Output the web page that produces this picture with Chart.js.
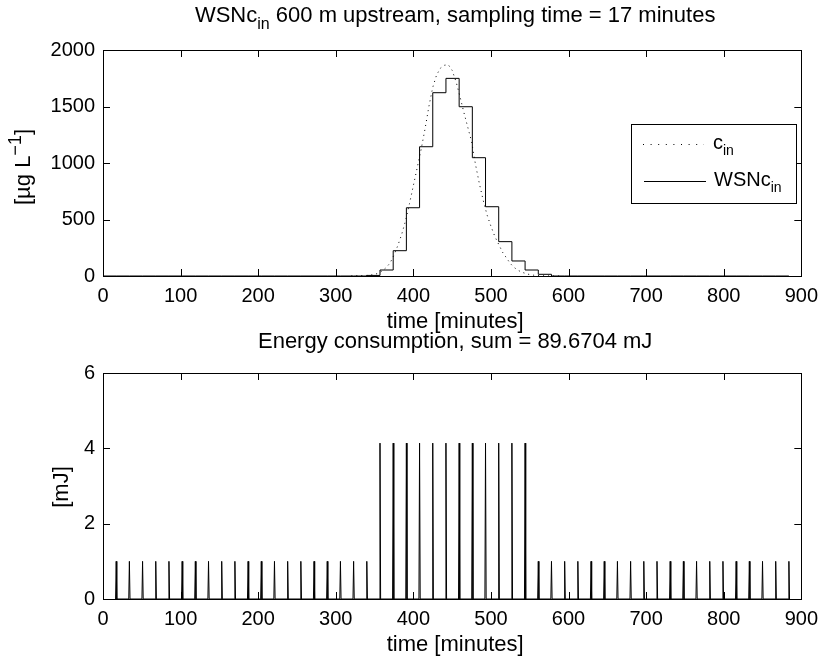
<!DOCTYPE html>
<html>
<head>
<meta charset="utf-8">
<script src="https://cdn.jsdelivr.net/npm/chart.js@4.4.0/dist/chart.umd.min.js"></script>
<style>
  body { margin: 0; background: #fff; }
  #wrap { position: relative; width: 826px; height: 660px; }
  #wrap canvas { position: absolute; left: 0; top: 0; }
</style>
</head>
<body>
<div id="wrap">
  <canvas id="topChart" width="826" height="660"></canvas>
  <canvas id="bottomChart" width="826" height="660"></canvas>
</div>
<script>
// sampling time of the WSN node (minutes)
const samplingTime = 17;

// c_in: true concentration upstream (µg/L)
const cinTimes  = [320, 330, 340, 345, 350, 355, 360, 365, 370, 375, 380, 385, 390, 395, 400, 405, 410, 415, 420, 425, 430, 435, 440, 445, 450, 455, 460, 465, 470, 475, 480, 485, 490, 495, 500, 505, 510, 515, 520, 525, 530, 535, 540, 545, 550, 555, 560, 570, 580, 590];
const cinValues = [1, 3, 5, 9, 14, 25, 45, 75, 115, 185, 270, 370, 490, 640, 800, 960, 1120, 1300, 1500, 1670, 1780, 1840, 1865, 1870, 1820, 1720, 1590, 1450, 1320, 1190, 990, 820, 670, 540, 440, 350, 280, 210, 160, 110, 75, 50, 33, 22, 12, 7, 4, 1, 0, 0];

// WSNc_in: value held at each sample (one per 17 minutes, starting at 0)
const wsnValues = [0, 0, 0, 0, 0, 0, 0, 0, 0, 0,
                   0, 0, 0, 0, 0, 0, 0, 0, 0, 0,
                   5, 53, 224, 604, 1144, 1622, 1749, 1498, 1047, 613,
                   304, 133, 53, 15, 0, 0, 0, 0, 0, 0,
                   0, 0, 0, 0, 0, 0, 0, 0, 0, 0,
                   0, 0, 0];

// energy used at each transmission (mJ), samples 1..52
const energyValues = [1, 1, 1, 1, 1, 1, 1, 1, 1, 1,
                      1, 1, 1, 1, 1, 1, 1, 1, 1, 1,
                      4.139, 4.139, 4.139, 4.139, 4.139, 4.139, 4.139, 4.139, 4.139, 4.139,
                      4.139, 4.139, 1, 1, 1, 1, 1, 1, 1, 1,
                      1, 1, 1, 1, 1, 1, 1, 1, 1, 1,
                      1, 1];

const xTicks = [0, 100, 200, 300, 400, 500, 600, 700, 800, 900];
const topYTicks = [0, 500, 1000, 1500, 2000];
const bottomYTicks = [0, 2, 4, 6];

const FONT = 'Liberation Sans, Arial, Helvetica, sans-serif';
const tickFont = { family: FONT, size: 20 };

// texte com subscrito / sobrescrito
function drawRich(ctx, parts, x, y, align, size) {
    size = size || 22;
    const small = p => p.sup ? Math.round(size * 0.8) : Math.round(size * 0.72);
    let w = 0;
    parts.forEach(p => {
        ctx.font = (p.sub || p.sup ? small(p) : size) + 'px ' + FONT;
        w += ctx.measureText(p.t).width;
    });
    let cx = align === 'center' ? x - w / 2 : x;
    parts.forEach(p => {
        ctx.font = (p.sub || p.sup ? small(p) : size) + 'px ' + FONT;
        const dy = p.sub ? Math.round(size * 0.3) : (p.sup ? -Math.round(size * 0.4) : 0);
        ctx.fillText(p.t, cx, y + dy);
        cx += ctx.measureText(p.t).width;
    });
}

const matlabFrame = {
    id: 'matlabFrame',
    afterDraw(chart, args, opts) {
        const ctx = chart.ctx;
        const a = chart.chartArea;
        const xs = chart.scales.x, ys = chart.scales.y;
        ctx.save();
        ctx.strokeStyle = '#000';
        ctx.fillStyle = '#000';
        ctx.lineWidth = 1;
        ctx.strokeRect(Math.round(a.left) + 0.5, Math.round(a.top) + 0.5, Math.round(a.right - a.left), Math.round(a.bottom - a.top));

        // ticks para dentro, nos quatro lados
        ctx.beginPath();
        xs.ticks.forEach(t => {
            const px = Math.round(xs.getPixelForValue(t.value)) + 0.5;
            ctx.moveTo(px, a.bottom); ctx.lineTo(px, a.bottom - 7);
            ctx.moveTo(px, a.top); ctx.lineTo(px, a.top + 7);
        });
        ys.ticks.forEach(t => {
            const py = Math.round(ys.getPixelForValue(t.value)) + 0.5;
            ctx.moveTo(a.left, py); ctx.lineTo(a.left + 7, py);
            ctx.moveTo(a.right, py); ctx.lineTo(a.right - 7, py);
        });
        ctx.stroke();

        const midX = (a.left + a.right) / 2 + 3;
        ctx.textBaseline = 'alphabetic';
        drawRich(ctx, opts.title, midX, opts.titleY, 'center');
        drawRich(ctx, [{ t: 'time [minutes]' }], midX, opts.xlabelY, 'center');

        ctx.save();
        ctx.translate(opts.ylabelX, opts.ylabelY);
        ctx.rotate(-Math.PI / 2);
        drawRich(ctx, opts.ylabel, 0, 0, 'center');
        ctx.restore();

        if (opts.legend) {
            ctx.fillStyle = '#fff';
            ctx.fillRect(631, 124, 165, 79);
            ctx.strokeRect(631.5, 124.5, 165, 79);
            ctx.fillStyle = '#000';
            ctx.beginPath();
            ctx.setLineDash([1, 6.6]);
            ctx.moveTo(643, 144.5); ctx.lineTo(704, 144.5);
            ctx.stroke();
            ctx.setLineDash([]);
            ctx.beginPath();
            ctx.moveTo(644, 181.5); ctx.lineTo(706, 181.5);
            ctx.stroke();
            drawRich(ctx, [{ t: 'c' }, { t: 'in', sub: true }], 713, 149, 'left', 20);
            drawRich(ctx, [{ t: 'WSNc' }, { t: 'in', sub: true }], 714, 186, 'left', 20);
        }
        ctx.restore();
    }
};

function axisOptions(yMin, yMax, yTicks, plotBottom) {
    return {
        x: {
            type: 'linear', min: 0, max: 900,
            afterBuildTicks: s => { s.ticks = xTicks.map(v => ({ value: v })); },
            ticks: { font: tickFont, color: '#000', padding: 8, maxRotation: 0, callback: v => String(v) },
            grid: { display: false, drawTicks: false },
            border: { display: false },
            afterFit: s => { s.height = 660 - plotBottom; }
        },
        y: {
            type: 'linear', min: yMin, max: yMax,
            afterBuildTicks: s => { s.ticks = yTicks.map(v => ({ value: v })); },
            ticks: { font: tickFont, color: '#000', padding: 8, callback: v => String(v) },
            grid: { display: false, drawTicks: false },
            border: { display: false },
            afterFit: s => { s.width = 103; }
        }
    };
}

// gráfico de cima: concentração
new Chart(document.getElementById('topChart'), {
    type: 'line',
    data: {
        datasets: [{
            label: 'c_in',
            data: cinTimes.map((t, i) => ({ x: t, y: cinValues[i] })),
            borderColor: '#000',
            borderWidth: 1,
            borderDash: [1, 4],
            pointRadius: 0,
            tension: 0
        }, {
            label: 'WSNc_in',
            data: wsnValues.map((v, i) => ({ x: i * samplingTime, y: v })),
            borderColor: '#000',
            borderWidth: 1,
            stepped: 'before',
            pointRadius: 0
        }]
    },
    options: {
        responsive: false,
        animation: false,
        events: [],
        layout: { padding: { top: 50, right: 19, left: 0, bottom: 0 } },
        scales: axisOptions(0, 2000, topYTicks, 276),
        plugins: {
            legend: { display: false },
            tooltip: { enabled: false },
            matlabFrame: {
                title: [{ t: 'WSNc' }, { t: 'in', sub: true }, { t: ' 600 m upstream, sampling time = 17 minutes' }],
                titleY: 22,
                xlabelY: 328,
                ylabel: [{ t: '[µg L' }, { t: '−1', sup: true }, { t: ']' }],
                ylabelX: 30,
                ylabelY: 167,
                legend: true
            }
        }
    },
    plugins: [matlabFrame]
});

// gráfico de baixo: energia (picos a cada amostra)
const spikePoints = [];
energyValues.forEach((e, i) => {
    const t = (i + 1) * samplingTime;
    spikePoints.push({ x: t - 0.8, y: 0 }, { x: t, y: e }, { x: t + 0.8, y: 0 });
});

new Chart(document.getElementById('bottomChart'), {
    type: 'line',
    data: {
        datasets: [{
            label: 'energy',
            data: spikePoints,
            borderColor: '#000',
            borderWidth: 1,
            pointRadius: 0,
            tension: 0
        }]
    },
    options: {
        responsive: false,
        animation: false,
        events: [],
        layout: { padding: { top: 373, right: 19, left: 0, bottom: 0 } },
        scales: axisOptions(0, 6, bottomYTicks, 599),
        plugins: {
            legend: { display: false },
            tooltip: { enabled: false },
            matlabFrame: {
                title: [{ t: 'Energy consumption, sum = 89.6704 mJ' }],
                titleY: 348,
                xlabelY: 651,
                ylabel: [{ t: '[mJ]' }],
                ylabelX: 68,
                ylabelY: 487,
                legend: false
            }
        }
    },
    plugins: [matlabFrame]
});
</script>
</body>
</html>
